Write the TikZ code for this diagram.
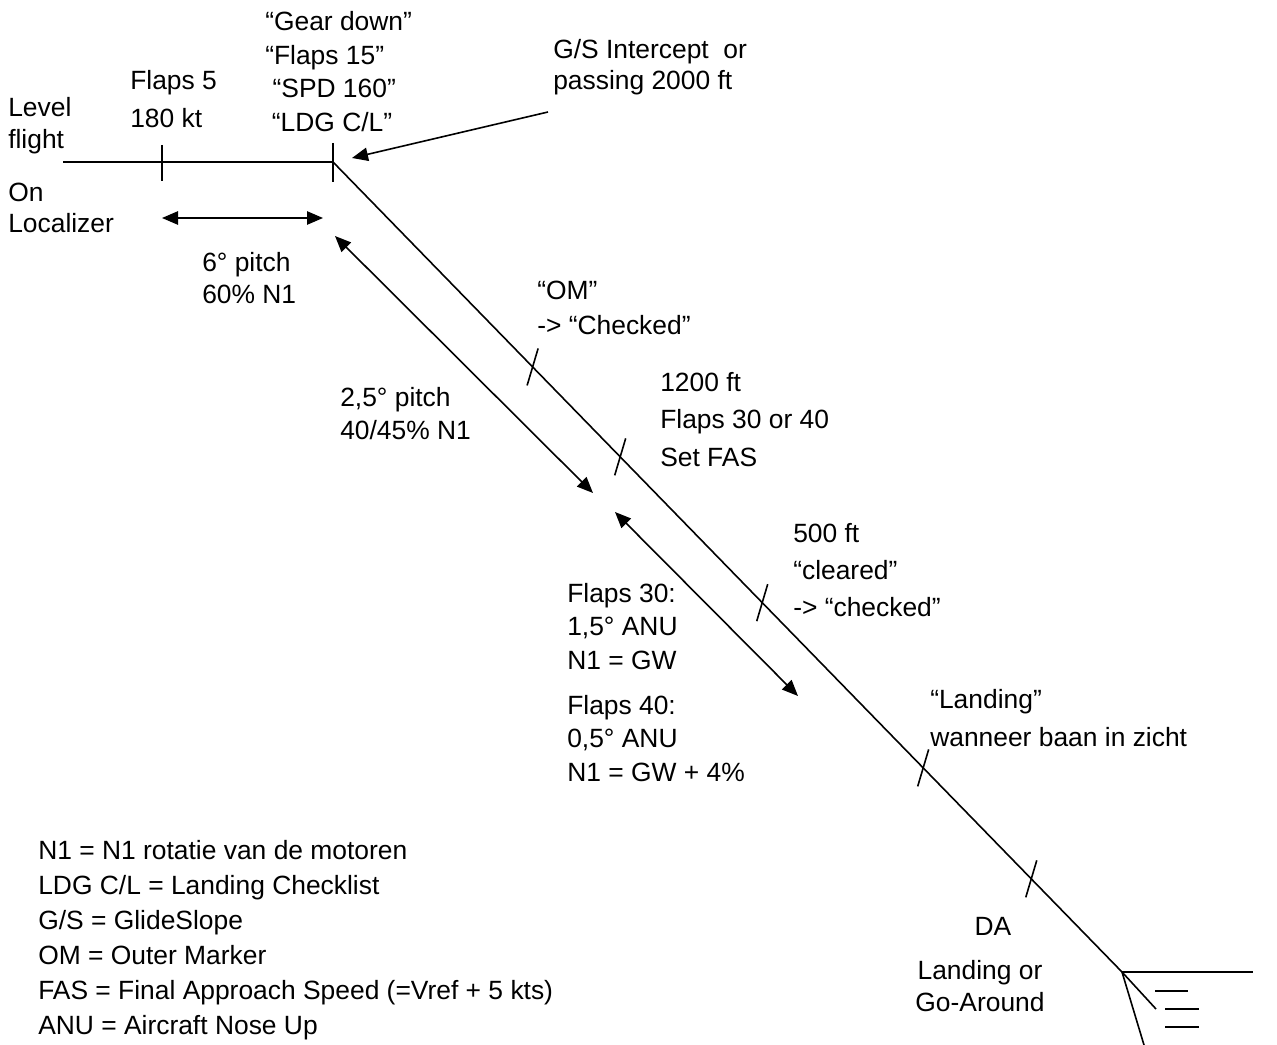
\documentclass[tikz,border=0pt]{standalone}
\usepackage{fontspec}
\setmainfont{Liberation Sans}
\usepackage{tikz}
\usetikzlibrary{arrows.meta,calc,positioning}

\tikzset{
  txt/.style={anchor=west, inner sep=0pt, align=left, font=\fontsize{19.8}{#1}\selectfont},
  txt/.default=25pt,
  path/.style={line width=1.2pt},
  dbl/.style={line width=1.2pt, {Triangle[length=12pt,width=10pt]}-{Triangle[length=12pt,width=10pt]}},
  sgl/.style={line width=1.2pt, -{Triangle[length=12pt,width=10pt]}}
}

\begin{document}
\begin{tikzpicture}[x=0.75pt,y=-0.75pt]
  \useasboundingbox (0,0) rectangle (1277,1045);

  % flight path
  \coordinate (start) at (63,162);
  \coordinate (fl5)   at (162,162);
  \coordinate (gsi)   at (333,162);
  \coordinate (thr)   at (1122,972);
  \coordinate (gend)  at (1156,1009);

  \draw[path] (start) -- (gsi) -- (thr) -- (gend);
  \draw[path] ($(fl5)+(0,-17)$) -- ($(fl5)+(0,19)$);
  \draw[path] ($(gsi)+(0,-19)$) -- ($(gsi)+(0,20)$);

  % ticks on the glide slope
  \foreach \p in {0.253,0.364,0.544,0.748,0.885}
    \draw[path] ($(gsi)!\p!(thr)+(5.5,-18.5)$) -- ($(gsi)!\p!(thr)+(-5.5,18.5)$);

  % runway
  \draw[path] (thr) -- (1253,972);
  \draw[path] (thr) -- (1144,1045);
  \draw[path] (1155,991) -- (1188,991);
  \draw[path] (1165,1009) -- (1199,1009);
  \draw[path] (1165,1027) -- (1199,1027);

  % labels
  \node[txt=24pt]    (level)   at (8,126)   {Level\\flight};
  \node[txt=23.3pt]  (onloc)   at (8,207.5) {On\\Localizer};
  \node[txt=28.5pt]  (flaps5)  at (130,99)  {Flaps 5\\180 kt};
  \node[txt=25.25pt] (gear)    at (265,71.5)
    {“Gear down”\\“Flaps 15”\\\hspace{5.5pt}“SPD 160”\\\hspace{5pt}“LDG C/L”};
  \node[txt=23.5pt]  (gs)      at (553,67)  {G/S Intercept\ \ or\\passing 2000 ft};
  \node[txt=24pt]    (pitch6)  at (202,278) {6° pitch\\60\% N1};
  \node[txt=26.25pt] (om)      at (537,307.5) {“OM”\\-> “Checked”};
  \node[txt=24.75pt] (pitch25) at (340,413.5) {2,5° pitch\\40/45\% N1};
  \node[txt=28.1pt]  (ft1200)  at (660,419.5) {1200 ft\\Flaps 30 or 40\\Set FAS};
  \node[txt=27.75pt] (ft500)   at (793,570) {500 ft\\“cleared”\\-> “checked”};
  \node[txt=25.1pt]  (fl30)    at (567,626.5) {Flaps 30:\\1,5° ANU\\N1 = GW};
  \node[txt=25.1pt]  (fl40)    at (567,738.5) {Flaps 40:\\0,5° ANU\\N1 = GW + 4\%};
  \node[txt=28.5pt]  (land)    at (930,718) {“Landing”\\wanneer baan in zicht};
  \node[txt, anchor=center] (da) at (993,926) {DA};
  \node[txt=24pt, anchor=center, align=center] (lor) at (980,986) {Landing or\\Go-Around};
  \node[txt=26.25pt] (legend)  at (38,940.5)
    {N1 = N1 rotatie van de motoren\\
     LDG C/L = Landing Checklist\\
     G/S = GlideSlope\\
     OM = Outer Marker\\
     FAS = Final Approach Speed (=Vref + 5 kts)\\
     ANU = Aircraft Nose Up};

  % arrows
  \coordinate (hl) at (162,218);
  \coordinate (hr) at (323,218);
  \coordinate (gst) at (548,112);
  \coordinate (gsh) at (352,158);
  \coordinate (a1) at (335,236);
  \coordinate (b1) at (593,493);
  \coordinate (a2) at (615,512);
  \coordinate (b2) at (798,696);

  \draw[dbl] (hl) -- (hr);
  \draw[sgl] (gst) -- (gsh);
  \draw[dbl] (a1) -- (b1);
  \draw[dbl] (a2) -- (b2);

\end{tikzpicture}
\end{document}
